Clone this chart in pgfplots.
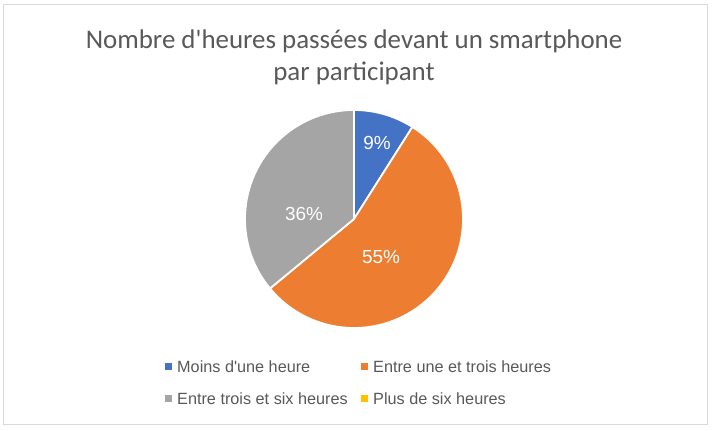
\documentclass[border=0pt]{standalone}
\usepackage{pgfplots}
\pgfplotsset{compat=1.18}
\usepackage{fontspec}
\setmainfont{Liberation Sans}
\newfontfamily\titlefont{Carlito}
\definecolor{pieblue}{HTML}{4472C4}
\definecolor{pieorange}{HTML}{ED7D31}
\definecolor{piegray}{HTML}{A5A5A5}
\definecolor{pieyellow}{HTML}{FFC000}
\definecolor{txtgray}{HTML}{595959}
\definecolor{framegray}{HTML}{D9D9D9}
\begin{document}
\begin{tikzpicture}
\begin{axis}[
  width=712bp, height=431bp, scale only axis,
  xmin=0, xmax=712, ymin=0, ymax=431,
  hide axis, clip=false,
]
% invisible bounding box and frame
\path[fill=white] (axis cs:0,0) rectangle (axis cs:712,431);
\draw[framegray, line width=1bp] (axis cs:3.5,6) rectangle (axis cs:707.5,426.5);
% title
\node[text=txtgray, align=center, font=\titlefont\fontsize{27}{32}\selectfont] at (axis cs:354,374)
  {Nombre d\textquotesingle heures passées devant un smartphone\\par participant};
% pie (values in percent, clockwise from 12 o'clock)
\gdef\cumul{90}
\foreach \v/\c in {9/pieblue,55/pieorange,36/piegray,0/pieyellow}{
  \pgfmathsetmacro\endang{\cumul-3.6*\v}
  \edef\temp{\noexpand\filldraw[fill=\c, draw=white, line width=1.8bp, line join=round] (axis cs:354,212) -- ++(\cumul:109bp) arc[start angle=\cumul,end angle=\endang,radius=109bp] -- cycle;}
  \temp
  \xdef\cumul{\endang}
}
% data labels
\node[text=white, font=\fontsize{19}{22}\selectfont] at (axis cs:377,288) {9\%};
\node[text=white, font=\fontsize{19}{22}\selectfont] at (axis cs:381,174) {55\%};
\node[text=white, font=\fontsize{19}{22}\selectfont] at (axis cs:304,217) {36\%};
% legend
\fill[pieblue] (axis cs:165,60.5) rectangle (axis cs:172,67.5);
\node[anchor=west, text=txtgray, font=\fontsize{16.3}{18}\selectfont, inner sep=0pt] at (axis cs:177,64) {Moins d\textquotesingle une heure};
\fill[pieorange] (axis cs:361,60.5) rectangle (axis cs:368,67.5);
\node[anchor=west, text=txtgray, font=\fontsize{16.3}{18}\selectfont, inner sep=0pt] at (axis cs:373,64) {Entre une et trois heures};
\fill[piegray] (axis cs:165,28.5) rectangle (axis cs:172,35.5);
\node[anchor=west, text=txtgray, font=\fontsize{16.3}{18}\selectfont, inner sep=0pt] at (axis cs:177,32) {Entre trois et six heures};
\fill[pieyellow] (axis cs:361,28.5) rectangle (axis cs:368,35.5);
\node[anchor=west, text=txtgray, font=\fontsize{16.3}{18}\selectfont, inner sep=0pt] at (axis cs:373,32) {Plus de six heures};
\end{axis}
\end{tikzpicture}
\end{document}
